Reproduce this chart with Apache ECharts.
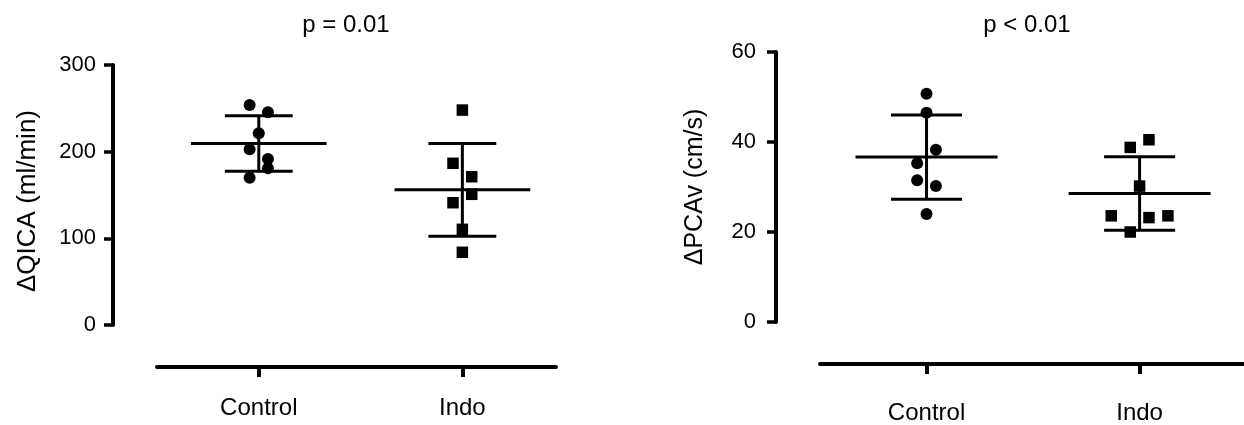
<!DOCTYPE html>
<html>
<head>
<meta charset="utf-8">
<script src="https://cdn.jsdelivr.net/npm/echarts@6/dist/echarts.min.js"></script>
<style>
  html, body { margin: 0; padding: 0; background: #fff; }
  #main { width: 1244px; height: 425px; }
</style>
</head>
<body>
<div id="main"></div>
<script>
var app = echarts.init(document.getElementById('main'));

var categories = ['Control', 'Indo'];

// left panel: delta QICA (ml/min)
var qicaControl = [253.8, 245.4, 221.2, 202.7, 191.5, 180.8, 170.0];
var qicaControlJitter = [-0.045, 0.045, 0, -0.045, 0.045, 0.045, -0.045];
var qicaIndo = [248.0, 186.6, 171.1, 150.8, 141.1, 110.4, 83.9];
var qicaIndoJitter = [0, -0.046, 0.046, 0.046, -0.046, 0, 0];
var qicaTicks = [0, 100, 200, 300];

// right panel: delta PCAv (cm/s)
var pcavControl = [50.7, 46.5, 38.3, 35.3, 31.5, 30.2, 24.0];
var pcavControlJitter = [0, 0, 0.044, -0.044, -0.044, 0.044, 0];
var pcavIndo = [38.8, 40.5, 30.2, 23.6, 23.2, 23.6, 20.0];
var pcavIndoJitter = [-0.044, 0.044, 0, -0.133, 0.044, 0.133, -0.044];
var pcavTicks = [0, 20, 40, 60];

var pValues = ['p = 0.01', 'p < 0.01'];

var FONT = '"Liberation Sans", Arial, sans-serif';

function points(vals, jit, g) {
    return vals.map(function (v, i) { return [g + jit[i], v]; });
}

// mean +/- SD of one group
function meanSd(vals, g) {
    var n = vals.length;
    var m = vals.reduce(function (a, b) { return a + b; }, 0) / n;
    var ss = vals.reduce(function (a, b) { return a + (b - m) * (b - m); }, 0);
    return [g, m, Math.sqrt(ss / (n - 1))];
}

function renderBar(params, api) {
    var x = api.value(0), m = api.value(1), s = api.value(2);
    var st = { stroke: '#000', lineWidth: 3 };
    var a = api.coord([x - 1 / 3, m]), b = api.coord([x + 1 / 3, m]);
    var t1 = api.coord([x - 1 / 6, m + s]), t2 = api.coord([x + 1 / 6, m + s]);
    var b1 = api.coord([x - 1 / 6, m - s]), b2 = api.coord([x + 1 / 6, m - s]);
    var c1 = api.coord([x, m + s]), c2 = api.coord([x, m - s]);
    return {
        type: 'group',
        children: [
            { type: 'line', shape: { x1: a[0], y1: a[1], x2: b[0], y2: b[1] }, style: st },
            { type: 'line', shape: { x1: t1[0], y1: t1[1], x2: t2[0], y2: t2[1] }, style: st },
            { type: 'line', shape: { x1: b1[0], y1: b1[1], x2: b2[0], y2: b2[1] }, style: st },
            { type: 'line', shape: { x1: c1[0], y1: c1[1], x2: c2[0], y2: c2[1] }, style: st }
        ]
    };
}

function xAxis(idx, max, margin) {
    return {
        type: 'value', gridIndex: idx, min: 0.5, max: max,
        offset: 42,
        axisLine: { onZero: false, lineStyle: { color: '#000', width: 4 } },
        axisTick: { customValues: [1, 2], length: 10, lineStyle: { color: '#000', width: 4 } },
        axisLabel: {
            customValues: [1, 2], margin: margin, color: '#000', fontSize: 24, fontFamily: FONT,
            formatter: function (v) { return categories[Math.round(v) - 1]; }
        },
        splitLine: { show: false }
    };
}

function yAxis(idx, ticks, name, nameSize, gap, margin, namePad) {
    return {
        type: 'value', gridIndex: idx,
        min: ticks[0], max: ticks[ticks.length - 1], interval: ticks[1] - ticks[0],
        offset: 44,
        name: name, nameLocation: 'middle', nameGap: gap,
        nameTextStyle: { color: '#000', fontSize: nameSize, fontFamily: FONT, padding: namePad },
        axisLine: { show: true, lineStyle: { color: '#000', width: 4 } },
        axisTick: { show: true, length: 9, lineStyle: { color: '#000', width: 3.5 } },
        axisLabel: { color: '#000', fontSize: 22, fontFamily: FONT, margin: margin },
        splitLine: { show: false }
    };
}

option = {
    backgroundColor: '#fff',
    animation: false,
    grid: [
        { left: 157, top: 65, width: 399, height: 260 },
        { left: 820, top: 52, width: 424, height: 273 }
    ],
    xAxis: [xAxis(0, 2.46, 29), xAxis(1, 2.49, 37)],
    yAxis: [
        yAxis(0, qicaTicks, '\u0394QICA (ml/min)', 26, 72, 17, [0, 12, 0, 0]),
        yAxis(1, pcavTicks, '\u0394PCAv (cm/s)', 25, 68, 20, 0)
    ],
    graphic: [
        { type: 'text', x: 346, y: 25, style: { text: pValues[0], fill: '#000', fontSize: 24, fontFamily: FONT, align: 'center', verticalAlign: 'middle' } },
        { type: 'text', x: 1027, y: 25, style: { text: pValues[1], fill: '#000', fontSize: 24, fontFamily: FONT, align: 'center', verticalAlign: 'middle' } }
    ],
    series: [
        {
            type: 'custom', xAxisIndex: 0, yAxisIndex: 0, renderItem: renderBar,
            encode: { x: 0, y: 1 },
            data: [meanSd(qicaControl, 1), meanSd(qicaIndo, 2)]
        },
        {
            type: 'custom', xAxisIndex: 1, yAxisIndex: 1, renderItem: renderBar,
            encode: { x: 0, y: 1 },
            data: [meanSd(pcavControl, 1), meanSd(pcavIndo, 2)]
        },
        {
            type: 'scatter', xAxisIndex: 0, yAxisIndex: 0, symbol: 'circle', symbolSize: 12,
            itemStyle: { color: '#000', opacity: 1 },
            data: points(qicaControl, qicaControlJitter, 1)
        },
        {
            type: 'scatter', xAxisIndex: 0, yAxisIndex: 0, symbol: 'rect', symbolSize: 11.5,
            itemStyle: { color: '#000', opacity: 1 },
            data: points(qicaIndo, qicaIndoJitter, 2)
        },
        {
            type: 'scatter', xAxisIndex: 1, yAxisIndex: 1, symbol: 'circle', symbolSize: 12,
            itemStyle: { color: '#000', opacity: 1 },
            data: points(pcavControl, pcavControlJitter, 1)
        },
        {
            type: 'scatter', xAxisIndex: 1, yAxisIndex: 1, symbol: 'rect', symbolSize: 11.5,
            itemStyle: { color: '#000', opacity: 1 },
            data: points(pcavIndo, pcavIndoJitter, 2)
        }
    ]
};

app.setOption(option);
</script>
</body>
</html>
